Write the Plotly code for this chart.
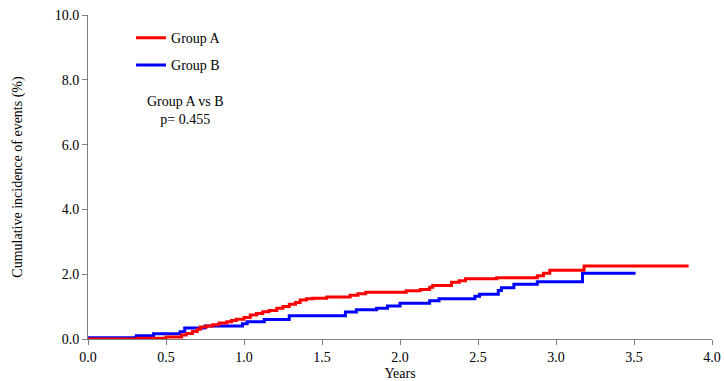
import plotly.graph_objects as go

# Group A (red) step data
a_years = [0, 0.32, 0.5, 0.6, 0.63, 0.67, 0.7, 0.72, 0.76, 0.8, 0.84, 0.89, 0.92, 0.95,
           1.0, 1.04, 1.08, 1.12, 1.16, 1.21, 1.25, 1.29, 1.33, 1.36, 1.4, 1.44, 1.53,
           1.68, 1.73, 1.78, 2.04, 2.13, 2.19, 2.21, 2.33, 2.38, 2.42, 2.62, 2.88, 2.92,
           2.96, 3.18, 3.85]
a_inc = [0.0, 0.02, 0.06, 0.12, 0.17, 0.23, 0.3, 0.37, 0.4, 0.44, 0.49, 0.53, 0.57, 0.61,
         0.66, 0.74, 0.79, 0.84, 0.88, 0.95, 1.0, 1.07, 1.13, 1.2, 1.24, 1.26, 1.30,
         1.35, 1.40, 1.44, 1.49, 1.53, 1.6, 1.65, 1.75, 1.8, 1.86, 1.89, 1.95, 2.03,
         2.12, 2.25, 2.25]

# Group B (blue) step data
b_years = [0, 0.31, 0.42, 0.59, 0.62, 0.75, 0.99, 1.02, 1.13, 1.29, 1.65, 1.72, 1.85,
           1.92, 2.0, 2.19, 2.25, 2.48, 2.51, 2.63, 2.65, 2.73, 2.88, 3.17, 3.51]
b_inc = [0.04, 0.1, 0.16, 0.22, 0.34, 0.40, 0.47, 0.53, 0.6, 0.72, 0.83, 0.9, 0.95,
         1.02, 1.1, 1.18, 1.24, 1.32, 1.38, 1.5, 1.58, 1.69, 1.77, 2.03, 2.03]

x_ticks = [0.0, 0.5, 1.0, 1.5, 2.0, 2.5, 3.0, 3.5, 4.0]
y_ticks = [0.0, 2.0, 4.0, 6.0, 8.0, 10.0]

FONT = "Tinos"

fig = go.Figure()
fig.add_trace(go.Scatter(x=b_years, y=b_inc, mode="lines", name="Group B",
                         line=dict(color="#0000ff", width=3, shape="hv"),
                         legendrank=2, legendgroup="b"))
fig.add_trace(go.Scatter(x=a_years, y=a_inc, mode="lines", name="Group A",
                         line=dict(color="#ff0000", width=3, shape="hv"),
                         legendrank=1, legendgroup="a"))

fig.update_layout(
    width=724, height=381,
    margin=dict(l=88, r=12, t=15, b=42),
    plot_bgcolor="white", paper_bgcolor="white",
    font=dict(family=FONT, size=14, color="black"),
    showlegend=True,
    legend=dict(x=0.069, y=0.978, xanchor="left", yanchor="top",
                bgcolor="rgba(0,0,0,0)", traceorder="grouped", tracegroupgap=6,
                font=dict(family=FONT, size=14)),
    xaxis=dict(range=[0, 4], tickvals=x_ticks, ticktext=[f"{v:.1f}" for v in x_ticks],
               showgrid=False, zeroline=False, showline=True, linecolor="#808080",
               linewidth=1, ticks="outside", ticklen=5, tickcolor="#808080",
               automargin=False, ticklabeloverflow="allow",
               title=dict(text="Years", font=dict(family=FONT, size=14), standoff=6),
               tickfont=dict(family=FONT, size=14)),
    yaxis=dict(range=[0, 10], tickvals=y_ticks, ticktext=[f"{v:.1f}" for v in y_ticks],
               showgrid=False, zeroline=False, showline=True, linecolor="#808080",
               linewidth=1, ticks="outside", ticklen=5, tickcolor="#808080",
               automargin=False, ticklabeloverflow="allow",
               title=dict(text="Cumulative incidence of events (%)",
                          font=dict(family=FONT, size=14), standoff=28),
               tickfont=dict(family=FONT, size=14)),
)

fig.add_annotation(x=0.156, y=0.705, xref="paper", yref="paper",
                   xanchor="center", yanchor="middle",
                   text="Group A vs B<br>p= 0.455", showarrow=False,
                   font=dict(family=FONT, size=14), align="center")

fig.write_html("out.html",
               config={"displayModeBar": False},
               post_script="document.body.style.margin='0';document.body.style.overflow='hidden';")
